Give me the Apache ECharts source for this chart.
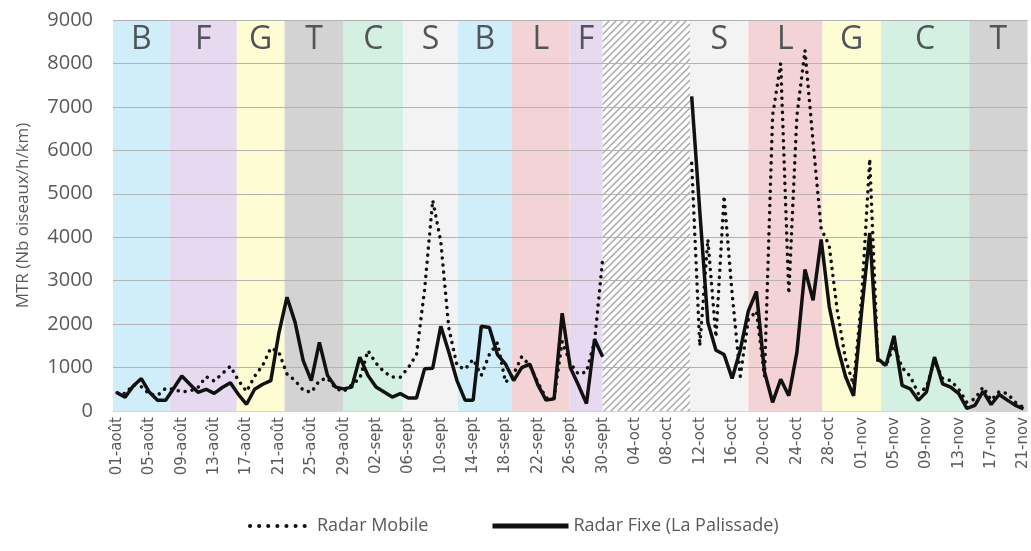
<!DOCTYPE html>
<html><head><meta charset="utf-8">
<script src="https://cdn.jsdelivr.net/npm/echarts@6/dist/echarts.min.js"></script>
<style>html,body{margin:0;padding:0;background:#fff}#c{width:1031px;height:551px}</style>
</head><body><div id="c"></div>
<script>
// ---- categories (daily dates, 01-août .. 21-nov) ----
const monthNames = ['août', 'sept', 'oct', 'nov'];
const monthDays = [31, 30, 31, 21];
const categories = [];
monthNames.forEach((m, k) => { for (let d = 1; d <= monthDays[k]; d++) categories.push((d < 10 ? '0' : '') + d + '-' + m); });

// ---- series values (MTR, Nb oiseaux/h/km) ----
const radarMobile = [
  420, 400, 600, 560, 390, 360, 520, 500, 440, 460,
  540, 790, 690, 860, 1030, 700, 450, 800, 1050, 1450,
  1350, 850, 700, 480, 430, 700, 760, 520, 450, 600,
  750, 1390, 1100, 900, 780, 780, 1000, 1300, 2800, 4850,
  3900, 1900, 1050, 960, 1190, 820, 1300, 1570, 660, 850,
  1250, 1050, 650, 300, 300, 1600, 1100, 850, 900, 1600,
  3500,
  null, null, null, null, null, null, null, null, null, null,
  5700, 1500, 3950, 1700, 4950, 2700, 800, 2100, 2300, 800,
  6800, 8000, 2700, 6800, 8300, 6200, 4200, 3800, 2300, 1200,
  600, 2600, 5800, 1150, 1050, 1500, 1000, 800, 400, 550,
  1150, 750, 700, 500, 200, 280, 550, 250, 450, 400,
  200, 80
];
const radarFixe = [
  420, 320, 575, 745, 430, 245, 245, 525, 805, 615,
  430, 500, 405, 540, 650, 380, 155, 500, 615, 700,
  1800, 2620, 2040, 1160, 700, 1580, 820, 550, 510, 550,
  1240, 820, 550, 435, 320, 400, 300, 300, 970, 985,
  1950, 1350, 700, 250, 250, 1950, 1920, 1300, 1080, 700,
  1000, 1080, 600, 250, 280, 2250, 1000, 600, 170, 1650,
  1250,
  null, null, null, null, null, null, null, null, null, null,
  7240, 4600, 2040, 1400, 1300, 750, 1400, 2300, 2750, 900,
  200, 730, 350, 1350, 3260, 2550, 3950, 2400, 1500, 800,
  350, 2300, 4100, 1200, 1050, 1730, 590, 510, 245, 435,
  1240, 625, 550, 400, 60, 130, 450, 150, 380, 250,
  130, 50
];

// ---- periods (letters shown in bands), in day-index units ----
const periodLabels = ['B', 'F', 'G', 'T', 'C', 'S', 'B', 'L', 'F', 'S', 'L', 'G', 'C', 'T'];
const periodStart = [-0.5, 6.5, 14.8, 20.7, 28, 35.35, 42.1, 48.8, 55.9, 70.8, 78, 87.15, 94.4, 105.3];
const periodEnd   = [6.5, 14.8, 20.7, 28, 35.35, 42.1, 48.8, 55.9, 60, 78, 87.15, 94.4, 105.3, 112.5];
const gapStart = 60, gapEnd = 70.8;

const yMin = 0, yMax = 9000, yStep = 1000;

const bandColor = { B: '#d0eefa', F: '#e6d9f0', G: '#fefcd2', T: '#d3d3d3', C: '#d3f0e2', S: '#f3f3f3', L: '#f4d3d6' };

// hatch pattern
const pat = document.createElement('canvas');
pat.width = 7; pat.height = 7;
const g = pat.getContext('2d');
g.fillStyle = '#ffffff'; g.fillRect(0, 0, 7, 7);
g.strokeStyle = '#aaaaaa'; g.lineWidth = 1.5;
g.beginPath();
g.moveTo(0, 7); g.lineTo(7, 0);
g.moveTo(-3.5, 3.5); g.lineTo(3.5, -3.5);
g.moveTo(3.5, 10.5); g.lineTo(10.5, 3.5);
g.stroke();

const areas = periodLabels.map((lab, k) => [
  { xAxis: periodStart[k], yAxis: yMax, name: lab, itemStyle: { color: bandColor[lab] } },
  { xAxis: periodEnd[k], yAxis: yMin }
]);
areas.push([
  { xAxis: gapStart, yAxis: yMax, name: '', itemStyle: { color: { image: pat, repeat: 'repeat' } } },
  { xAxis: gapEnd, yAxis: yMin }
]);

const legendText = { fontSize: 18, color: '#595959', fontFamily: 'Open Sans' };

const chart = echarts.init(document.getElementById('c'), null, { renderer: 'canvas' });
chart.setOption({
  animation: false,
  textStyle: { fontFamily: 'Open Sans' },
  grid: { left: 113, right: 2, top: 20, bottom: 140, containLabel: false },
  legend: [
    {
      left: 243, bottom: 11, itemWidth: 62, itemHeight: 12, itemGap: 10,
      textStyle: legendText, itemStyle: { opacity: 0 },
      lineStyle: { width: 4, type: [0.1, 9], cap: 'round', color: '#111' },
      data: ['Radar Mobile']
    },
    {
      left: 485, bottom: 11, itemWidth: 76, itemHeight: 12, itemGap: 10,
      textStyle: legendText, itemStyle: { opacity: 0 },
      lineStyle: { width: 5, color: '#111' },
      data: ['Radar Fixe (La Palissade)']
    }
  ],
  xAxis: [
    {
      type: 'category', data: categories, boundaryGap: true,
      axisTick: { show: false },
      axisLine: { lineStyle: { color: '#cfd6da', width: 1 } },
      axisLabel: { interval: 3, rotate: 90, fontSize: 15, color: '#595959', margin: 6, fontFamily: 'DejaVu Sans' }
    },
    { type: 'value', min: -0.5, max: 112.5, show: false }
  ],
  yAxis: {
    type: 'value', min: yMin, max: yMax, interval: yStep,
    axisLabel: { fontSize: 20, color: '#595959', margin: 20, formatter: v => String(v) },
    axisLine: { show: false }, axisTick: { show: false },
    splitLine: { lineStyle: { color: '#b3b3b3', width: 1 } },
    name: 'MTR (Nb oiseaux/h/km)', nameLocation: 'middle', nameGap: 81,
    nameTextStyle: { fontSize: 17, color: '#595959' }
  },
  series: [
    {
      type: 'line', xAxisIndex: 1, data: [], z: -1, silent: true,
      markArea: {
        silent: true, z: -1,
        label: { show: true, position: 'insideTop', distance: 4, fontSize: 32, color: '#50555a', fontFamily: 'Open Sans' },
        data: areas
      }
    },
    {
      name: 'Radar Mobile', type: 'line', data: radarMobile, symbol: 'none', connectNulls: false,
      lineStyle: { color: '#111', width: 3.5, type: [0.1, 7], cap: 'round' },
      itemStyle: { color: '#111' }
    },
    {
      name: 'Radar Fixe (La Palissade)', type: 'line', data: radarFixe, symbol: 'none', connectNulls: false,
      lineStyle: { color: '#111', width: 3.5 },
      itemStyle: { color: '#111' }
    }
  ]
});
</script>
</body></html>
